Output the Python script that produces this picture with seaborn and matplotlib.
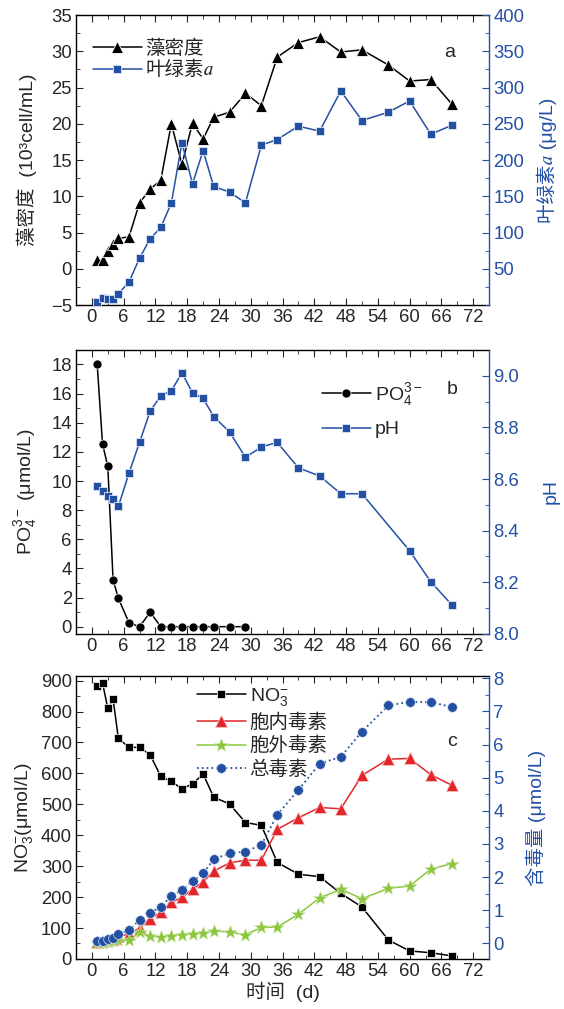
import numpy as np
import pandas as pd
import matplotlib
matplotlib.use("Agg")
import matplotlib.pyplot as plt
from matplotlib.ticker import MultipleLocator, FixedLocator
import seaborn as sns

# ---------------- data ----------------
days_a = [1, 2, 3, 4, 5, 7, 9, 11, 13, 15, 17, 19, 21, 23, 26, 29, 32, 35, 39, 43, 47, 51, 56, 60, 64, 68]
algae_density = [1.2, 1.2, 2.5, 3.4, 4.2, 4.4, 9.1, 11.0, 12.2, 20.0, 14.4, 20.1, 17.9, 20.9, 21.6, 24.2,
                 22.5, 29.2, 31.2, 32.0, 29.9, 30.2, 28.1, 25.9, 26.1, 22.7]
chla = [4.5, 9.2, 8.3, 7.8, 15.6, 31.7, 64.8, 91.4, 107, 140.6, 223.7, 167.2, 213, 163.5, 155.7, 141,
        220.5, 228.3, 246.7, 239.8, 295.3, 254.5, 266, 281.5, 235.6, 248]

days_po4 = [1, 2, 3, 4, 5, 7, 9, 11, 13, 15, 17, 19, 21, 23, 26, 29]
po4 = [18.0, 12.56, 11.0, 3.2, 1.95, 0.27, 0.0, 0.99, 0.0, 0.0, 0.0, 0.0, 0.0, 0.0, 0.0, 0.0]

days_ph = [1, 2, 3, 4, 5, 7, 9, 11, 13, 15, 17, 19, 21, 23, 26, 29, 32, 35, 39, 43, 47, 51, 60, 64, 68]
ph = [8.573, 8.552, 8.533, 8.522, 8.494, 8.623, 8.742, 8.863, 8.922, 8.942, 9.011, 8.934, 8.912, 8.842,
      8.782, 8.684, 8.724, 8.742, 8.643, 8.612, 8.543, 8.543, 8.322, 8.202, 8.112]

days_c = [1, 2, 3, 4, 5, 7, 9, 11, 13, 15, 17, 19, 21, 23, 26, 29, 32, 35, 39, 43, 47, 51, 56, 60, 64, 68]
no3 = [882, 893, 810, 840, 713, 684, 684, 660, 590, 574, 550, 566, 598, 523, 501, 441, 432, 312, 274,
       266, 212, 168, 61, 26, 20, 10]
toxin_intra = [0.05, 0.07, 0.10, 0.12, 0.21, 0.28, 0.47, 0.75, 0.94, 1.24, 1.39, 1.63, 1.86, 2.18, 2.43,
               2.51, 2.51, 3.44, 3.79, 4.10, 4.06, 5.07, 5.56, 5.58, 5.09, 4.77]
toxin_extra = [0.00, 0.02, 0.05, 0.07, 0.09, 0.09, 0.33, 0.21, 0.20, 0.22, 0.26, 0.29, 0.30, 0.38, 0.34,
               0.26, 0.48, 0.49, 0.88, 1.37, 1.63, 1.35, 1.66, 1.73, 2.24, 2.41]
toxin_total = [0.07, 0.07, 0.12, 0.15, 0.28, 0.40, 0.70, 0.92, 1.10, 1.43, 1.61, 1.88, 2.11, 2.54, 2.72,
               2.77, 2.97, 3.88, 4.63, 5.42, 5.63, 6.39, 7.18, 7.29, 7.28, 7.13]

# ---------------- style ----------------
sns.set_style("ticks")
plt.rcParams['font.family'] = ['Liberation Sans', 'Noto Sans CJK SC', 'STIXGeneral', 'DejaVu Sans']
plt.rcParams['mathtext.fontset'] = 'custom'
plt.rcParams['mathtext.rm'] = 'Liberation Sans'
plt.rcParams['mathtext.it'] = 'Liberation Sans:italic'
plt.rcParams['mathtext.default'] = 'rm'
plt.rcParams['font.size'] = 13
plt.rcParams['axes.linewidth'] = 1.0

BLUE = '#2350a3'
RED = '#e3262b'
GREEN = '#8dc63f'
BLACK = 'black'
FT = 13.3   # tick labels
FL = 14     # axis labels
FG = 14     # legend

fig = plt.figure(figsize=(5.64, 10.09), dpi=100)
L, W = 0.1348, 0.7323
ax_a = fig.add_axes([L, 0.6977, W, 0.2874])
ax_b = fig.add_axes([L, 0.3717, W, 0.2815])
ax_c = fig.add_axes([L, 0.0496, W, 0.2805])


def style_axes(ax, ax2):
    ax.set_xlim(-3, 75)
    ax.xaxis.set_major_locator(MultipleLocator(6))
    ax.xaxis.set_minor_locator(MultipleLocator(3))
    ax.tick_params(which='both', direction='in', top=True, right=False, labelsize=FT, pad=3)
    ax.tick_params(which='major', length=5)
    ax.tick_params(which='minor', length=3)
    for s in ['left', 'top', 'bottom']:
        ax.spines[s].set_color('black')
    ax.spines['right'].set_visible(False)
    ax2.spines['right'].set_color(BLUE)
    ax2.spines['right'].set_linewidth(1.0)
    for s in ['left', 'top', 'bottom']:
        ax2.spines[s].set_visible(False)
    ax2.tick_params(which='both', direction='in', colors=BLUE, labelsize=FT, labelcolor=BLUE, pad=3)
    ax2.tick_params(which='major', length=5)
    ax2.tick_params(which='minor', length=3)


def add_legend(ax, ax2, anchor, spacing):
    h1, l1 = ax.get_legend_handles_labels()
    h2, l2 = ax2.get_legend_handles_labels()
    ax2.legend(h1 + h2, l1 + l2, loc='upper left', bbox_to_anchor=anchor, frameon=False,
               fontsize=FG, handlelength=2.5, handletextpad=0.2, labelspacing=spacing,
               borderaxespad=0, borderpad=0)


# ---------------- panel a ----------------
ax_a2 = ax_a.twinx()
sns.lineplot(x=days_a, y=algae_density, ax=ax_a, color=BLACK, marker='^', markersize=8,
             markeredgecolor='white', markeredgewidth=0.6, lw=1.1, label='藻密度', legend=False)
sns.lineplot(x=days_a, y=chla, ax=ax_a2, color=BLUE, marker='s', markersize=6,
             markeredgecolor='#dde6f5', markeredgewidth=0.6, lw=1.1, label='叶绿素\U0001D44E', legend=False)
ax_a.set_ylim(-5, 35)
ax_a.yaxis.set_major_locator(MultipleLocator(5))
ax_a.yaxis.set_minor_locator(MultipleLocator(2.5))
ax_a2.set_ylim(0, 400)
ax_a2.yaxis.set_major_locator(FixedLocator([50, 100, 150, 200, 250, 300, 350, 400]))
ax_a2.yaxis.set_minor_locator(MultipleLocator(25))
style_axes(ax_a, ax_a2)
ax_a.set_ylabel('藻密度  (10³cell/mL)', fontsize=FL, labelpad=10)
ax_a2.set_ylabel('叶绿素\U0001D44E (μg/L)', fontsize=FL, color=BLUE, labelpad=9)
add_legend(ax_a, ax_a2, (0.041, 0.915), 0.15)
ax_a2.text(0.905, 0.87, 'a', transform=ax_a2.transAxes, fontsize=FL, ha='center', va='center')
ax_a.set_xlabel('')

# ---------------- panel b ----------------
ax_b2 = ax_b.twinx()
sns.lineplot(x=days_po4, y=po4, ax=ax_b, color=BLACK, marker='o', markersize=6.5,
             markeredgecolor='white', markeredgewidth=0.5, lw=1.1, label='PO$_4^{3-}$', legend=False)
sns.lineplot(x=days_ph, y=ph, ax=ax_b2, color=BLUE, marker='s', markersize=6,
             markeredgecolor='#dde6f5', markeredgewidth=0.6, lw=1.1, label='pH', legend=False)
ax_b.set_ylim(-0.5, 19)
ax_b.yaxis.set_major_locator(MultipleLocator(2))
ax_b.yaxis.set_minor_locator(MultipleLocator(1))
ax_b2.set_ylim(8.0, 9.1)
ax_b2.yaxis.set_major_locator(FixedLocator([8.0, 8.2, 8.4, 8.6, 8.8, 9.0]))
ax_b2.yaxis.set_minor_locator(FixedLocator([8.1, 8.3, 8.5, 8.7, 8.9]))
ax_b2.yaxis.set_major_formatter(plt.FuncFormatter(lambda v, p: f'{v:.1f}'))
style_axes(ax_b, ax_b2)
ax_b.set_ylabel('PO$_4^{3-}$ (μmol/L)', fontsize=FL, labelpad=9)
ax_b2.set_ylabel('pH', fontsize=FL, color=BLUE, labelpad=17)
add_legend(ax_b, ax_b2, (0.596, 0.89), 0.65)
ax_b2.text(0.91, 0.86, 'b', transform=ax_b2.transAxes, fontsize=FL, ha='center', va='center')

# ---------------- panel c ----------------
ax_c2 = ax_c.twinx()
sns.lineplot(x=days_c, y=no3, ax=ax_c, color=BLACK, marker='s', markersize=6,
             markeredgecolor='white', markeredgewidth=0.5, lw=1.1, label='NO$_3^{-}$', legend=False)
sns.lineplot(x=days_c, y=toxin_intra, ax=ax_c2, color=RED, marker='^', markersize=8,
             markeredgecolor='#f6c9c9', markeredgewidth=0.5, lw=1.1, label='胞内毒素', legend=False)
sns.lineplot(x=days_c, y=toxin_extra, ax=ax_c2, color=GREEN, marker='*', markersize=10,
             markeredgecolor='#d9eec0', markeredgewidth=0.4, lw=1.1, label='胞外毒素', legend=False)
sns.lineplot(x=days_c, y=toxin_total, ax=ax_c2, color=BLUE, marker='o', markersize=7,
             markeredgecolor='#dde6f5', markeredgewidth=0.5, lw=1.3, linestyle=':', label='总毒素', legend=False)
ax_c.set_ylim(0, 915)
ax_c.yaxis.set_major_locator(MultipleLocator(100))
ax_c.yaxis.set_minor_locator(MultipleLocator(50))
ax_c2.set_ylim(-0.47, 8.07)
ax_c2.yaxis.set_major_locator(MultipleLocator(1))
ax_c2.yaxis.set_minor_locator(MultipleLocator(0.5))
style_axes(ax_c, ax_c2)
ax_c.set_ylabel('NO$_3^{-}$(μmol/L)', fontsize=FL, labelpad=4)
ax_c2.set_ylabel('含毒量 (μmol/L)', fontsize=FL, color=BLUE, labelpad=16)
ax_c.set_xlabel('时间  (d)', fontsize=FL, labelpad=1)
add_legend(ax_c, ax_c2, (0.293, 0.965), 0.28)
ax_c2.text(0.91, 0.77, 'c', transform=ax_c2.transAxes, fontsize=FL, ha='center', va='center')

for ax in (ax_a, ax_b):
    ax.set_xlabel('')

fig.savefig('out.png', dpi=100)
